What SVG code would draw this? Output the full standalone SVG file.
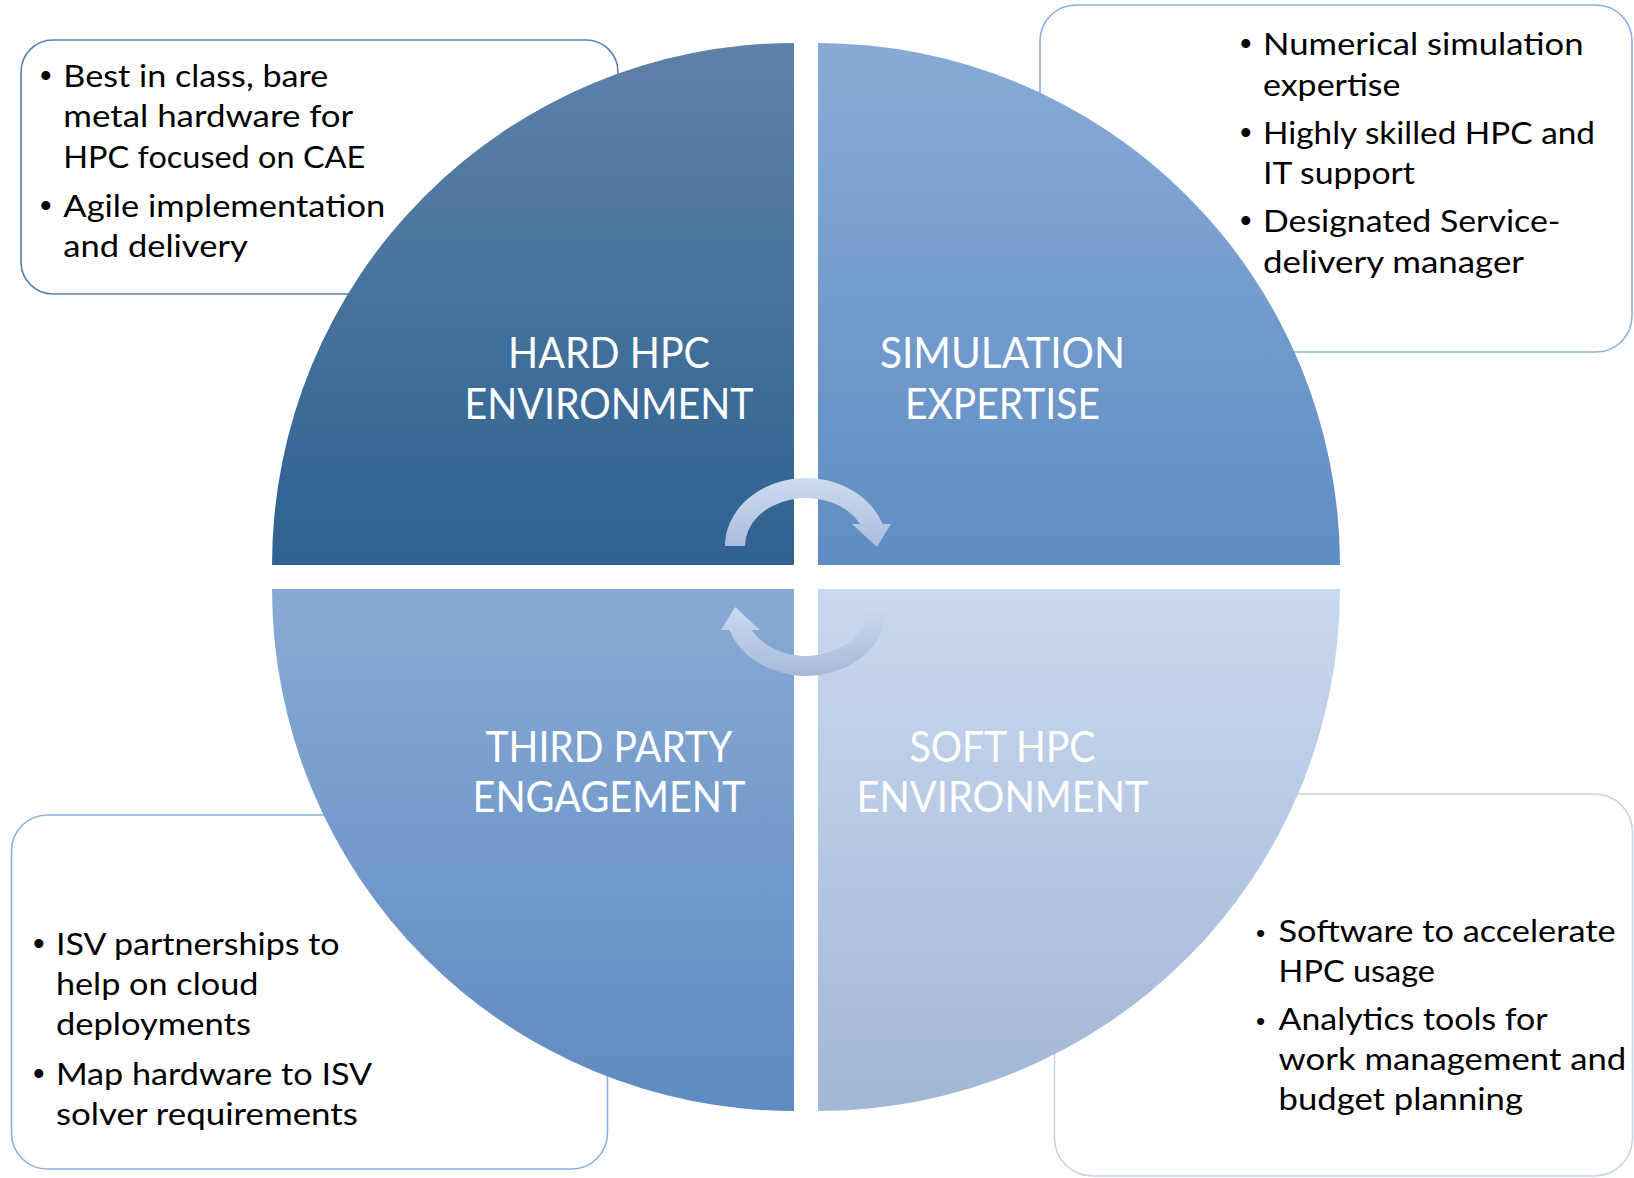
<svg xmlns="http://www.w3.org/2000/svg" width="1634" height="1178" viewBox="0 0 1634 1178">
  <style>
    .box { fill: #ffffff; stroke-width: 1.6; }
    .body { font-family: Lato, "Liberation Sans", sans-serif; font-size: 31px; fill: #000000; }
    .bul { font-family: "Liberation Sans", Arial, sans-serif; font-size: 33px; fill: #000000; }
    .lbl { font-family: Lato, "Liberation Sans", sans-serif; font-size: 43px; fill: #ffffff; text-anchor: middle; }
  </style>
  <defs>
    <linearGradient id="gTL" x1="0" y1="0" x2="0" y2="1">
      <stop offset="0" stop-color="#5e81a9"/>
      <stop offset="1" stop-color="#2e6290"/>
    </linearGradient>
    <linearGradient id="gTR" x1="0" y1="0" x2="0" y2="1">
      <stop offset="0" stop-color="#88abd6"/>
      <stop offset="1" stop-color="#5f8dc3"/>
    </linearGradient>
    <linearGradient id="gBL" x1="0" y1="0" x2="0" y2="1">
      <stop offset="0" stop-color="#88aad5"/>
      <stop offset="1" stop-color="#5f8bc2"/>
    </linearGradient>
    <linearGradient id="gBR" x1="0" y1="0" x2="0" y2="1">
      <stop offset="0" stop-color="#c9d9ef"/>
      <stop offset="1" stop-color="#a2b6d6"/>
    </linearGradient>
    <linearGradient id="gArrUp" gradientUnits="userSpaceOnUse" x1="0" y1="478" x2="0" y2="548">
      <stop offset="0" stop-color="#cddcf0"/>
      <stop offset="1" stop-color="#a8bcdb"/>
    </linearGradient>
    <linearGradient id="gArrDn" gradientUnits="userSpaceOnUse" x1="0" y1="606" x2="0" y2="676">
      <stop offset="0" stop-color="#cbdbf0"/>
      <stop offset="1" stop-color="#a5b9d8"/>
    </linearGradient>
  </defs>

  <!-- text boxes (behind the circle) -->
  <g id="box-hard">
    <rect class="box" x="21" y="40" width="597" height="254" rx="32" ry="32" stroke="#5682b2"/>
  </g>
  <g id="box-sim">
    <rect class="box" x="1040" y="5" width="592" height="347" rx="36" ry="36" stroke="#8db0da"/>
  </g>
  <g id="box-third">
    <rect class="box" x="11.5" y="815" width="596" height="354" rx="36" ry="36" stroke="#8fb0dc"/>
  </g>
  <g id="box-soft">
    <rect class="box" x="1054.5" y="794" width="578" height="382" rx="38" ry="38" stroke="#c5d5ea"/>
  </g>

  <!-- quadrants -->
  <g id="q-hard">
    <path d="M 794 565 L 272 565 A 522 522 0 0 1 794 43 Z" fill="url(#gTL)"/>
    <text class="lbl" x="609" y="368" textLength="202" lengthAdjust="spacingAndGlyphs">HARD HPC</text>
    <text class="lbl" x="609" y="419" textLength="289" lengthAdjust="spacingAndGlyphs">ENVIRONMENT</text>
  </g>
  <g id="q-sim">
    <path d="M 818 565 L 818 43 A 522 522 0 0 1 1340 565 Z" fill="url(#gTR)"/>
    <text class="lbl" x="1002.5" y="368" textLength="245" lengthAdjust="spacingAndGlyphs">SIMULATION</text>
    <text class="lbl" x="1002.5" y="419" textLength="195" lengthAdjust="spacingAndGlyphs">EXPERTISE</text>
  </g>
  <g id="q-third">
    <path d="M 794 589 L 794 1111 A 522 522 0 0 1 272 589 Z" fill="url(#gBL)"/>
    <text class="lbl" x="609" y="762" textLength="247" lengthAdjust="spacingAndGlyphs">THIRD PARTY</text>
    <text class="lbl" x="609" y="812" textLength="273" lengthAdjust="spacingAndGlyphs">ENGAGEMENT</text>
  </g>
  <g id="q-soft">
    <path d="M 818 589 L 1340 589 A 522 522 0 0 1 818 1111 Z" fill="url(#gBR)"/>
    <text class="lbl" x="1002.5" y="762" textLength="186" lengthAdjust="spacingAndGlyphs">SOFT HPC</text>
    <text class="lbl" x="1002.5" y="812" textLength="292" lengthAdjust="spacingAndGlyphs">ENVIRONMENT</text>
  </g>

  <!-- cycle arrows -->
  <g id="connectors">
    <path d="M 725 546 A 81 68 0 0 1 882.6 524 L 891 524 L 877 547 L 852 524 L 860.2 524 A 61 48 0 0 0 745 546 Z" fill="url(#gArrUp)"/>
    <path d="M 887 608 A 81 68 0 0 1 729.4 630 L 721 630 L 735 607 L 760 630 L 751.8 630 A 61 48 0 0 0 867 608 Z" fill="url(#gArrDn)"/>
  </g>

  <!-- box texts -->
  <g id="text-hard">
    <text class="bul" x="40" y="86.7">•</text>
    <text class="body" x="63.3" y="86.7" textLength="265" lengthAdjust="spacingAndGlyphs">Best in class, bare</text>
    <text class="body" x="63.3" y="127.3" textLength="290" lengthAdjust="spacingAndGlyphs">metal hardware for</text>
    <text class="body" x="63.3" y="168" textLength="302" lengthAdjust="spacingAndGlyphs">HPC focused on CAE</text>
    <text class="bul" x="40" y="216.7">•</text>
    <text class="body" x="63.3" y="216.7" textLength="322" lengthAdjust="spacingAndGlyphs">Agile implementation</text>
    <text class="body" x="63.3" y="256.7" textLength="184.5" lengthAdjust="spacingAndGlyphs">and delivery</text>
  </g>
  <g id="text-sim">
    <text class="bul" x="1240" y="55">•</text>
    <text class="body" x="1263" y="55" textLength="320.5" lengthAdjust="spacingAndGlyphs">Numerical simulation</text>
    <text class="body" x="1263" y="95.5" textLength="137.5" lengthAdjust="spacingAndGlyphs">expertise</text>
    <text class="bul" x="1240" y="143.5">•</text>
    <text class="body" x="1263" y="143.5" textLength="332" lengthAdjust="spacingAndGlyphs">Highly skilled HPC and</text>
    <text class="body" x="1263" y="184" textLength="152" lengthAdjust="spacingAndGlyphs">IT support</text>
    <text class="bul" x="1240" y="232">•</text>
    <text class="body" x="1263" y="232" textLength="297.4" lengthAdjust="spacingAndGlyphs">Designated Service-</text>
    <text class="body" x="1263" y="272.5" textLength="261" lengthAdjust="spacingAndGlyphs">delivery manager</text>
  </g>
  <g id="text-third">
    <text class="bul" x="33" y="955">•</text>
    <text class="body" x="55.9" y="955" textLength="283.7" lengthAdjust="spacingAndGlyphs">ISV partnerships to</text>
    <text class="body" x="55.9" y="995" textLength="202.5" lengthAdjust="spacingAndGlyphs">help on cloud</text>
    <text class="body" x="55.9" y="1035" textLength="195" lengthAdjust="spacingAndGlyphs">deployments</text>
    <text class="bul" x="33" y="1085">•</text>
    <text class="body" x="55.9" y="1085" textLength="316.3" lengthAdjust="spacingAndGlyphs">Map hardware to ISV</text>
    <text class="body" x="55.9" y="1125" textLength="302" lengthAdjust="spacingAndGlyphs">solver requirements</text>
  </g>
  <g id="text-soft">
    <text class="bul" x="1256" y="941.7" style="font-size:26px">•</text>
    <text class="body" x="1278.6" y="941.7" textLength="337" lengthAdjust="spacingAndGlyphs">Software to accelerate</text>
    <text class="body" x="1278.6" y="981.7" textLength="156.4" lengthAdjust="spacingAndGlyphs">HPC usage</text>
    <text class="bul" x="1256" y="1030" style="font-size:26px">•</text>
    <text class="body" x="1278.6" y="1030" textLength="269" lengthAdjust="spacingAndGlyphs">Analytics tools for</text>
    <text class="body" x="1278.6" y="1070" textLength="347.7" lengthAdjust="spacingAndGlyphs">work management and</text>
    <text class="body" x="1278.6" y="1110" textLength="244.3" lengthAdjust="spacingAndGlyphs">budget planning</text>
  </g>
</svg>
